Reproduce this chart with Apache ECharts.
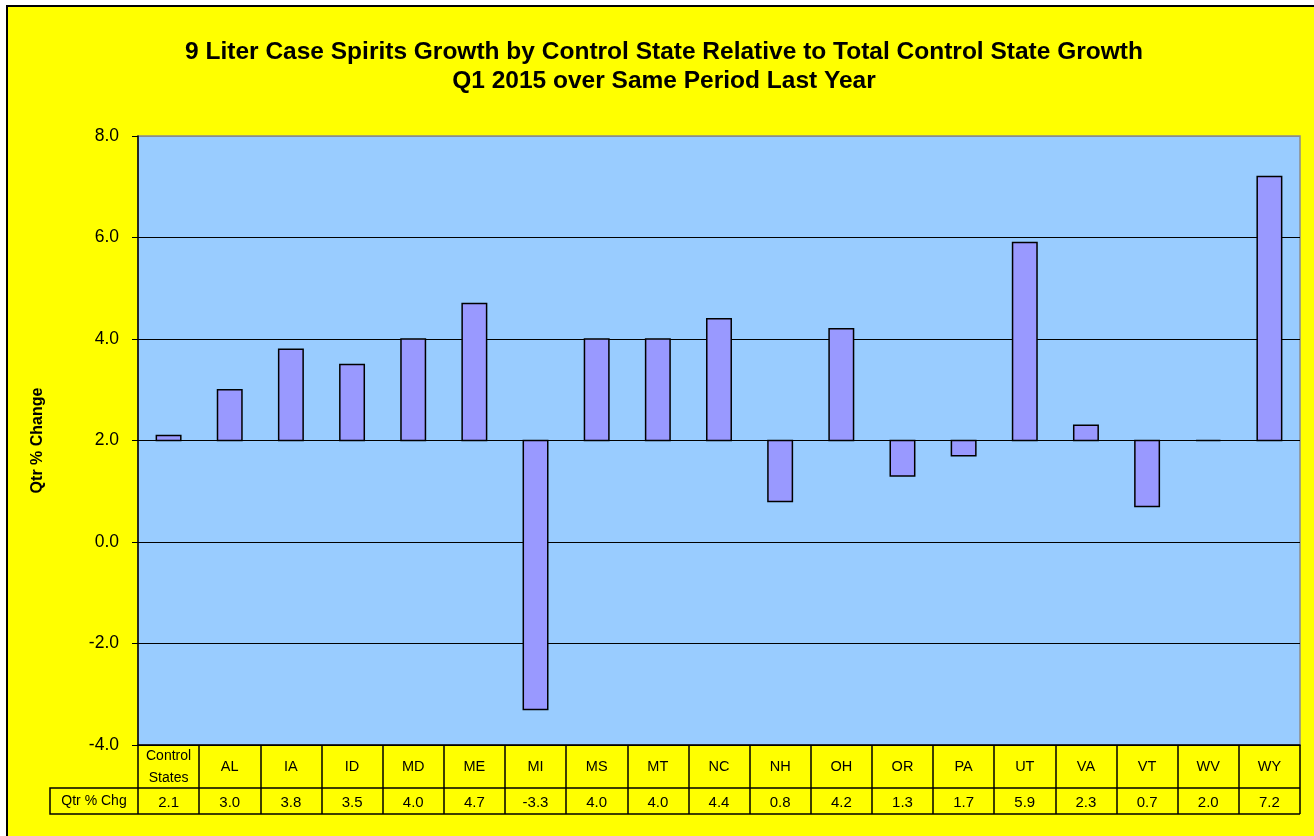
<!DOCTYPE html>
<html>
<head>
<meta charset="utf-8">
<script src="https://cdn.jsdelivr.net/npm/echarts@6/dist/echarts.min.js"></script>
<style>
  html, body { margin: 0; padding: 0; background: #fff; }
  #main { width: 1314px; height: 836px; }
</style>
</head>
<body>
<div id="main"></div>
<script>
// data
var states = ['Control\nStates', 'AL', 'IA', 'ID', 'MD', 'ME', 'MI', 'MS', 'MT', 'NC', 'NH', 'OH', 'OR', 'PA', 'UT', 'VA', 'VT', 'WV', 'WY'];
var qtrChg = [2.1, 3.0, 3.8, 3.5, 4.0, 4.7, -3.3, 4.0, 4.0, 4.4, 0.8, 4.2, 1.3, 1.7, 5.9, 2.3, 0.7, 2.0, 7.2];
var baseValue = 2.0; // bars are drawn from the 2.0 crossing line
var yTicks = { min: -4, max: 8, interval: 2 };
var rowHeader = 'Qtr % Chg';

var FONT = '"Liberation Sans", Arial, sans-serif';
var chart = echarts.init(document.getElementById('main'));

var barData = qtrChg.map(function (v, i) { return [i, v]; });

chart.setOption({
  backgroundColor: '#ffffff',
  animation: false,
  textStyle: { fontFamily: FONT },
  title: {
    text: '9 Liter Case Spirits Growth by Control State Relative to Total Control State Growth\nQ1 2015 over Same Period Last Year',
    left: 664,
    top: 38,
    padding: 0,
    textAlign: 'center',
    textStyle: { fontSize: 24.5, fontWeight: 'bold', color: '#000', lineHeight: 29, fontFamily: FONT }
  },
  graphic: [
    {
      type: 'rect', z: -10, silent: true,
      shape: { x: 7, y: 6, width: 1320, height: 840 },
      style: { fill: '#ffff00', stroke: '#000', lineWidth: 2 }
    },
    // data table rows below the axis
    {
      type: 'polyline', z: 10, silent: true,
      shape: { points: [[1300, 788], [50, 788], [50, 814], [1300, 814]] },
      style: { stroke: '#000', lineWidth: 1.5, fill: null }
    },
    {
      type: 'text', z: 10, silent: true,
      style: { x: 94, y: 801, text: rowHeader, align: 'center', verticalAlign: 'middle',
               font: '14px ' + FONT, fill: '#000' }
    }
  ],
  grid: {
    left: 138, right: 14, top: 136, bottom: 91,
    show: true, backgroundColor: '#99ccff', borderColor: '#8c8c8c', borderWidth: 1.5
  },
  xAxis: {
    type: 'category',
    data: states,
    boundaryGap: true,
    axisLine: { onZero: false, lineStyle: { color: '#000', width: 1.5 } },
    axisTick: { show: true, interval: 0, length: 69, lineStyle: { color: '#000', width: 1.5 } },
    axisLabel: {
      interval: 0, margin: 0, color: '#000',
      formatter: function (val, idx) {
        var top = val.indexOf('\n') >= 0
          ? val.split('\n').map(function (s) { return '{h|' + s + '}'; }).join('\n')
          : '{c|' + val + '}';
        return top + '\n{v|' + qtrChg[idx].toFixed(1) + '}';
      },
      rich: {
        h: { fontSize: 14, height: 22, lineHeight: 22, verticalAlign: 'middle', color: '#000', fontFamily: FONT },
        c: { fontSize: 14.5, height: 44, lineHeight: 44, verticalAlign: 'middle', color: '#000', fontFamily: FONT },
        v: { fontSize: 15, height: 27, lineHeight: 27, verticalAlign: 'middle', color: '#000', fontFamily: FONT }
      }
    },
    splitLine: { show: false }
  },
  yAxis: {
    type: 'value',
    min: yTicks.min, max: yTicks.max, interval: yTicks.interval,
    name: 'Qtr % Change',
    nameLocation: 'middle',
    nameGap: 92,
    nameRotate: 90,
    nameTextStyle: { fontSize: 16, fontWeight: 'bold', color: '#000', fontFamily: FONT },
    axisLine: { show: true, lineStyle: { color: '#000', width: 1.5 } },
    axisTick: { show: true, length: 6, lineStyle: { color: '#000' } },
    axisLabel: {
      color: '#000', fontSize: 17.5, margin: 19, fontFamily: FONT,
      formatter: function (v) { return v.toFixed(1); }
    },
    splitLine: { show: true, lineStyle: { color: ['#000', '#000', '#000', '#000', '#000', '#000', '#8c8c8c'], width: 1.2 } }
  },
  series: [{
    type: 'custom',
    data: barData,
    encode: { x: 0, y: 1 },
    z: 5,
    renderItem: function (params, api) {
      var i = api.value(0), v = api.value(1);
      var p0 = api.coord([i, baseValue]);
      var p1 = api.coord([i, v]);
      var w = api.size([1, 0])[0] * 0.4;
      return {
        type: 'rect',
        shape: { x: p0[0] - w / 2, y: Math.min(p0[1], p1[1]), width: w, height: Math.abs(p1[1] - p0[1]) },
        style: { fill: '#9999ff', stroke: '#000', lineWidth: 1.5 }
      };
    }
  }]
});
</script>
</body>
</html>
